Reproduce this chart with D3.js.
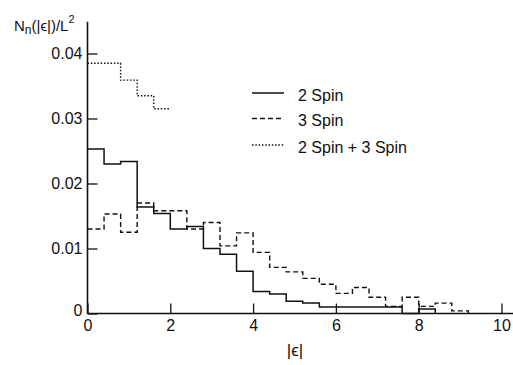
<!DOCTYPE html>
<html>
<head>
<meta charset="utf-8">
<script src="https://cdn.jsdelivr.net/npm/d3@7"></script>
<style>
  html, body { margin: 0; padding: 0; background: #fff; }
  svg { display: block; }
  text { font-family: "Liberation Sans", Arial, sans-serif; fill: #111; }
</style>
</head>
<body>
<svg id="chart" width="513" height="365"></svg>
<script>
// Bin left edges (width 0.4) in |epsilon|
const binEdges = [0, 0.4, 0.8, 1.2, 1.6, 2.0, 2.4, 2.8, 3.2, 3.6, 4.0, 4.4, 4.8,
                  5.2, 5.6, 6.0, 6.4, 6.8, 7.2, 7.6, 8.0, 8.4, 8.8, 9.2];

// Series values N_n(|eps|)/L^2 per bin
const twoSpin = [0.0253, 0.0230, 0.0234, 0.0164, 0.0154, 0.0130, 0.0134, 0.0100,
                 0.0091, 0.0065, 0.0034, 0.0030, 0.0019, 0.0016, 0.0010, 0.0010,
                 0.0010, 0.0010, 0.0010, 0.0000, 0.0007];
const threeSpin = [0.0130, 0.0153, 0.0125, 0.0170, 0.0158, 0.0158, 0.0130, 0.0140,
                   0.0104, 0.0124, 0.0094, 0.0071, 0.0064, 0.0054, 0.0045, 0.0031,
                   0.0040, 0.0025, 0.0011, 0.0025, 0.0011, 0.0016, 0.0004];
const twoPlusThree = [0.0385, 0.0385, 0.0359, 0.0335, 0.0315];

const xTicks = [0, 2, 4, 6, 8, 10];
const yTicks = [0, 0.01, 0.02, 0.03, 0.04];
const legendLabels = ["2 Spin", "3 Spin", "2 Spin + 3 Spin"];

const svg = d3.select("#chart");
const x = d3.scaleLinear().domain([0, 10]).range([87.5, 501.5]);
const y = d3.scaleLinear().domain([0, 0.04]).range([313.5, 53.5]);

// Axis lines
svg.append("line").attr("x1", x(0)).attr("x2", 513)
  .attr("y1", y(0)).attr("y2", y(0))
  .attr("stroke", "#111").attr("stroke-width", 1.6);
svg.append("line").attr("x1", x(0)).attr("x2", x(0))
  .attr("y1", y(0)).attr("y2", y(0.0449))
  .attr("stroke", "#111").attr("stroke-width", 1.6);

// Axes (ticks pointing inward)
const xAxis = d3.axisBottom(x).tickValues(xTicks).tickFormat(d3.format("d"))
  .tickSizeInner(-10).tickSizeOuter(0).tickPadding(6);
const gx = svg.append("g").attr("transform", `translate(0,${y(0)})`).call(xAxis);
gx.select(".domain").remove();
gx.selectAll(".tick line").attr("stroke", "#111").attr("stroke-width", 1.3);
gx.selectAll(".tick text").attr("font-size", 16).attr("font-family", "Liberation Sans, Arial, sans-serif").attr("fill", "#111");

const yAxis = d3.axisLeft(y).tickValues(yTicks)
  .tickFormat(d => d === 0 ? "0" : d3.format(".2f")(d))
  .tickSizeInner(-10).tickSizeOuter(0).tickPadding(5);
const gy = svg.append("g").attr("transform", `translate(${x(0)},0)`).call(yAxis);
gy.select(".domain").remove();
gy.selectAll(".tick line").attr("stroke", "#111").attr("stroke-width", 1.3);
gy.selectAll(".tick text").attr("font-size", 16).attr("font-family", "Liberation Sans, Arial, sans-serif").attr("fill", "#111");
gy.selectAll(".tick").filter(d => d === 0).select("text").attr("dy", "0.1em");

// Step histograms
const stepLine = d3.line().x(d => x(d[0])).y(d => y(d[1])).curve(d3.curveStepAfter);
function stepPoints(vals, dropToZero) {
  const pts = vals.map((v, i) => [binEdges[i], v]);
  const end = binEdges[vals.length];
  pts.push([end, dropToZero ? 0 : vals[vals.length - 1]]);
  return pts;
}

const styles = [
  { vals: twoSpin, drop: true, dash: null, w: 1.5 },
  { vals: threeSpin, drop: true, dash: "5,3", w: 1.4 },
  { vals: twoPlusThree, drop: false, dash: "1.5,1.8", w: 1.4 }
];

styles.forEach(s => {
  svg.append("path")
    .attr("d", stepLine(stepPoints(s.vals, s.drop)))
    .attr("fill", "none")
    .attr("stroke", "#111")
    .attr("stroke-width", s.w)
    .attr("stroke-dasharray", s.dash);
});

// Legend
const legendY = [93, 118.5, 145];
legendLabels.forEach((lab, i) => {
  svg.append("line")
    .attr("x1", 252).attr("x2", 284)
    .attr("y1", legendY[i]).attr("y2", legendY[i])
    .attr("stroke", "#111").attr("stroke-width", styles[i].w)
    .attr("stroke-dasharray", styles[i].dash);
  svg.append("text")
    .attr("x", 298).attr("y", legendY[i] + 2).attr("dy", "0.35em")
    .attr("font-size", 16)
    .text(lab);
});

// Y axis title
const yt = svg.append("text").attr("x", 14).attr("y", 31).attr("font-size", 15);
yt.append("tspan").text("N");
yt.append("tspan").attr("font-size", 12).attr("dy", 3).text("n");
yt.append("tspan").attr("dy", -3).text("(|ϵ|)/L");
yt.append("tspan").attr("font-size", 11).attr("dy", -8).text("2");

// X axis title
svg.append("text").attr("x", 295).attr("y", 356)
  .attr("text-anchor", "middle").attr("font-size", 17).text("|ϵ|");
</script>
</body>
</html>
